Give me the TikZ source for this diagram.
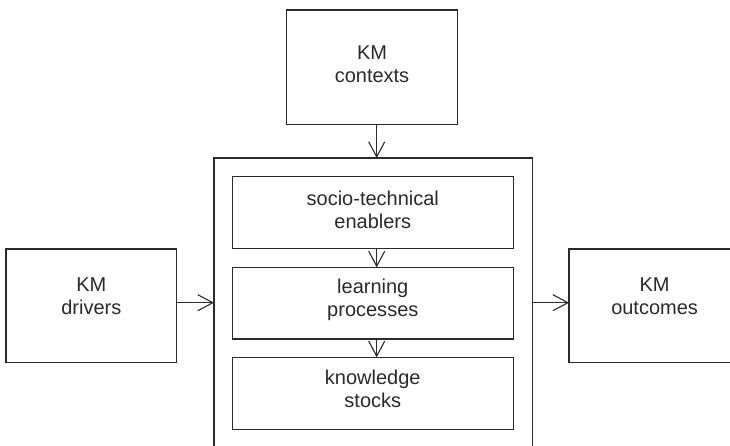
\documentclass[tikz,border=0pt]{standalone}
\usepackage{fontspec}
\setmainfont{Liberation Sans}
\usetikzlibrary{arrows.meta}
\definecolor{ink}{HTML}{2B2B2B}
\begin{document}
\begin{tikzpicture}[x=1pt,y=-1pt,
  box/.style={draw=ink, line width=1.3pt, fill=white, inner sep=0pt, outer sep=0pt},
  lbl/.style={text=ink, align=center, inner sep=0pt, font=\fontsize{20}{23}\selectfont},
  flow/.style={draw=ink, line width=1.3pt, -{Straight Barb[length=15pt,width=16pt,line width=1.1pt]}}]
\useasboundingbox (0,0) rectangle (730,445);
\clip (0,0) rectangle (730,445);

% outer boxes
\node[box, minimum width=170.6pt, minimum height=114.7pt] (ctx) at (372,67.35) {};
\node[box, minimum width=318.7pt, minimum height=312pt] (core) at (373.35,314) {};
\node[box, minimum width=170.7pt, minimum height=113.7pt] (drv) at (91.35,305.85) {};
\node[box, minimum width=170.7pt, minimum height=113.7pt] (out) at (654.4,305.85) {};

% inner boxes
\node[box, minimum width=281pt, minimum height=71.8pt] (enb) at (372.8,212.6) {};
\node[box, minimum width=281pt, minimum height=71.7pt] (lrn) at (372.8,303.2) {};
\node[box, minimum width=281pt, minimum height=72pt] (stk) at (372.8,393.3) {};

% labels
\node[lbl] (ctxT) at (372,64) {KM\\contexts};
\node[lbl] (drvT) at (91.35,296.5) {KM\\drivers};
\node[lbl] (outT) at (654.6,296.5) {KM\\outcomes};
\node[lbl] (enbT) at (372.8,209.8) {socio-technical\\enablers};
\node[lbl] (lrnT) at (372.8,299.5) {learning\\processes};
\node[lbl] (stkT) at (372.8,388.5) {knowledge\\stocks};

% connector guides
\coordinate (axis) at (376.7,0);
\coordinate (row) at (0,302.7);

% connectors
\draw[flow] (ctx.south -| axis) -- (core.north -| axis);
\draw[flow] (enb.south -| axis) -- (lrn.north -| axis);
\draw[flow] (lrn.south -| axis) -- (stk.north -| axis);
\draw[flow] (drv.east |- row) -- (core.west |- row);
\draw[flow] (core.east |- row) -- (out.west |- row);
\end{tikzpicture}
\end{document}
